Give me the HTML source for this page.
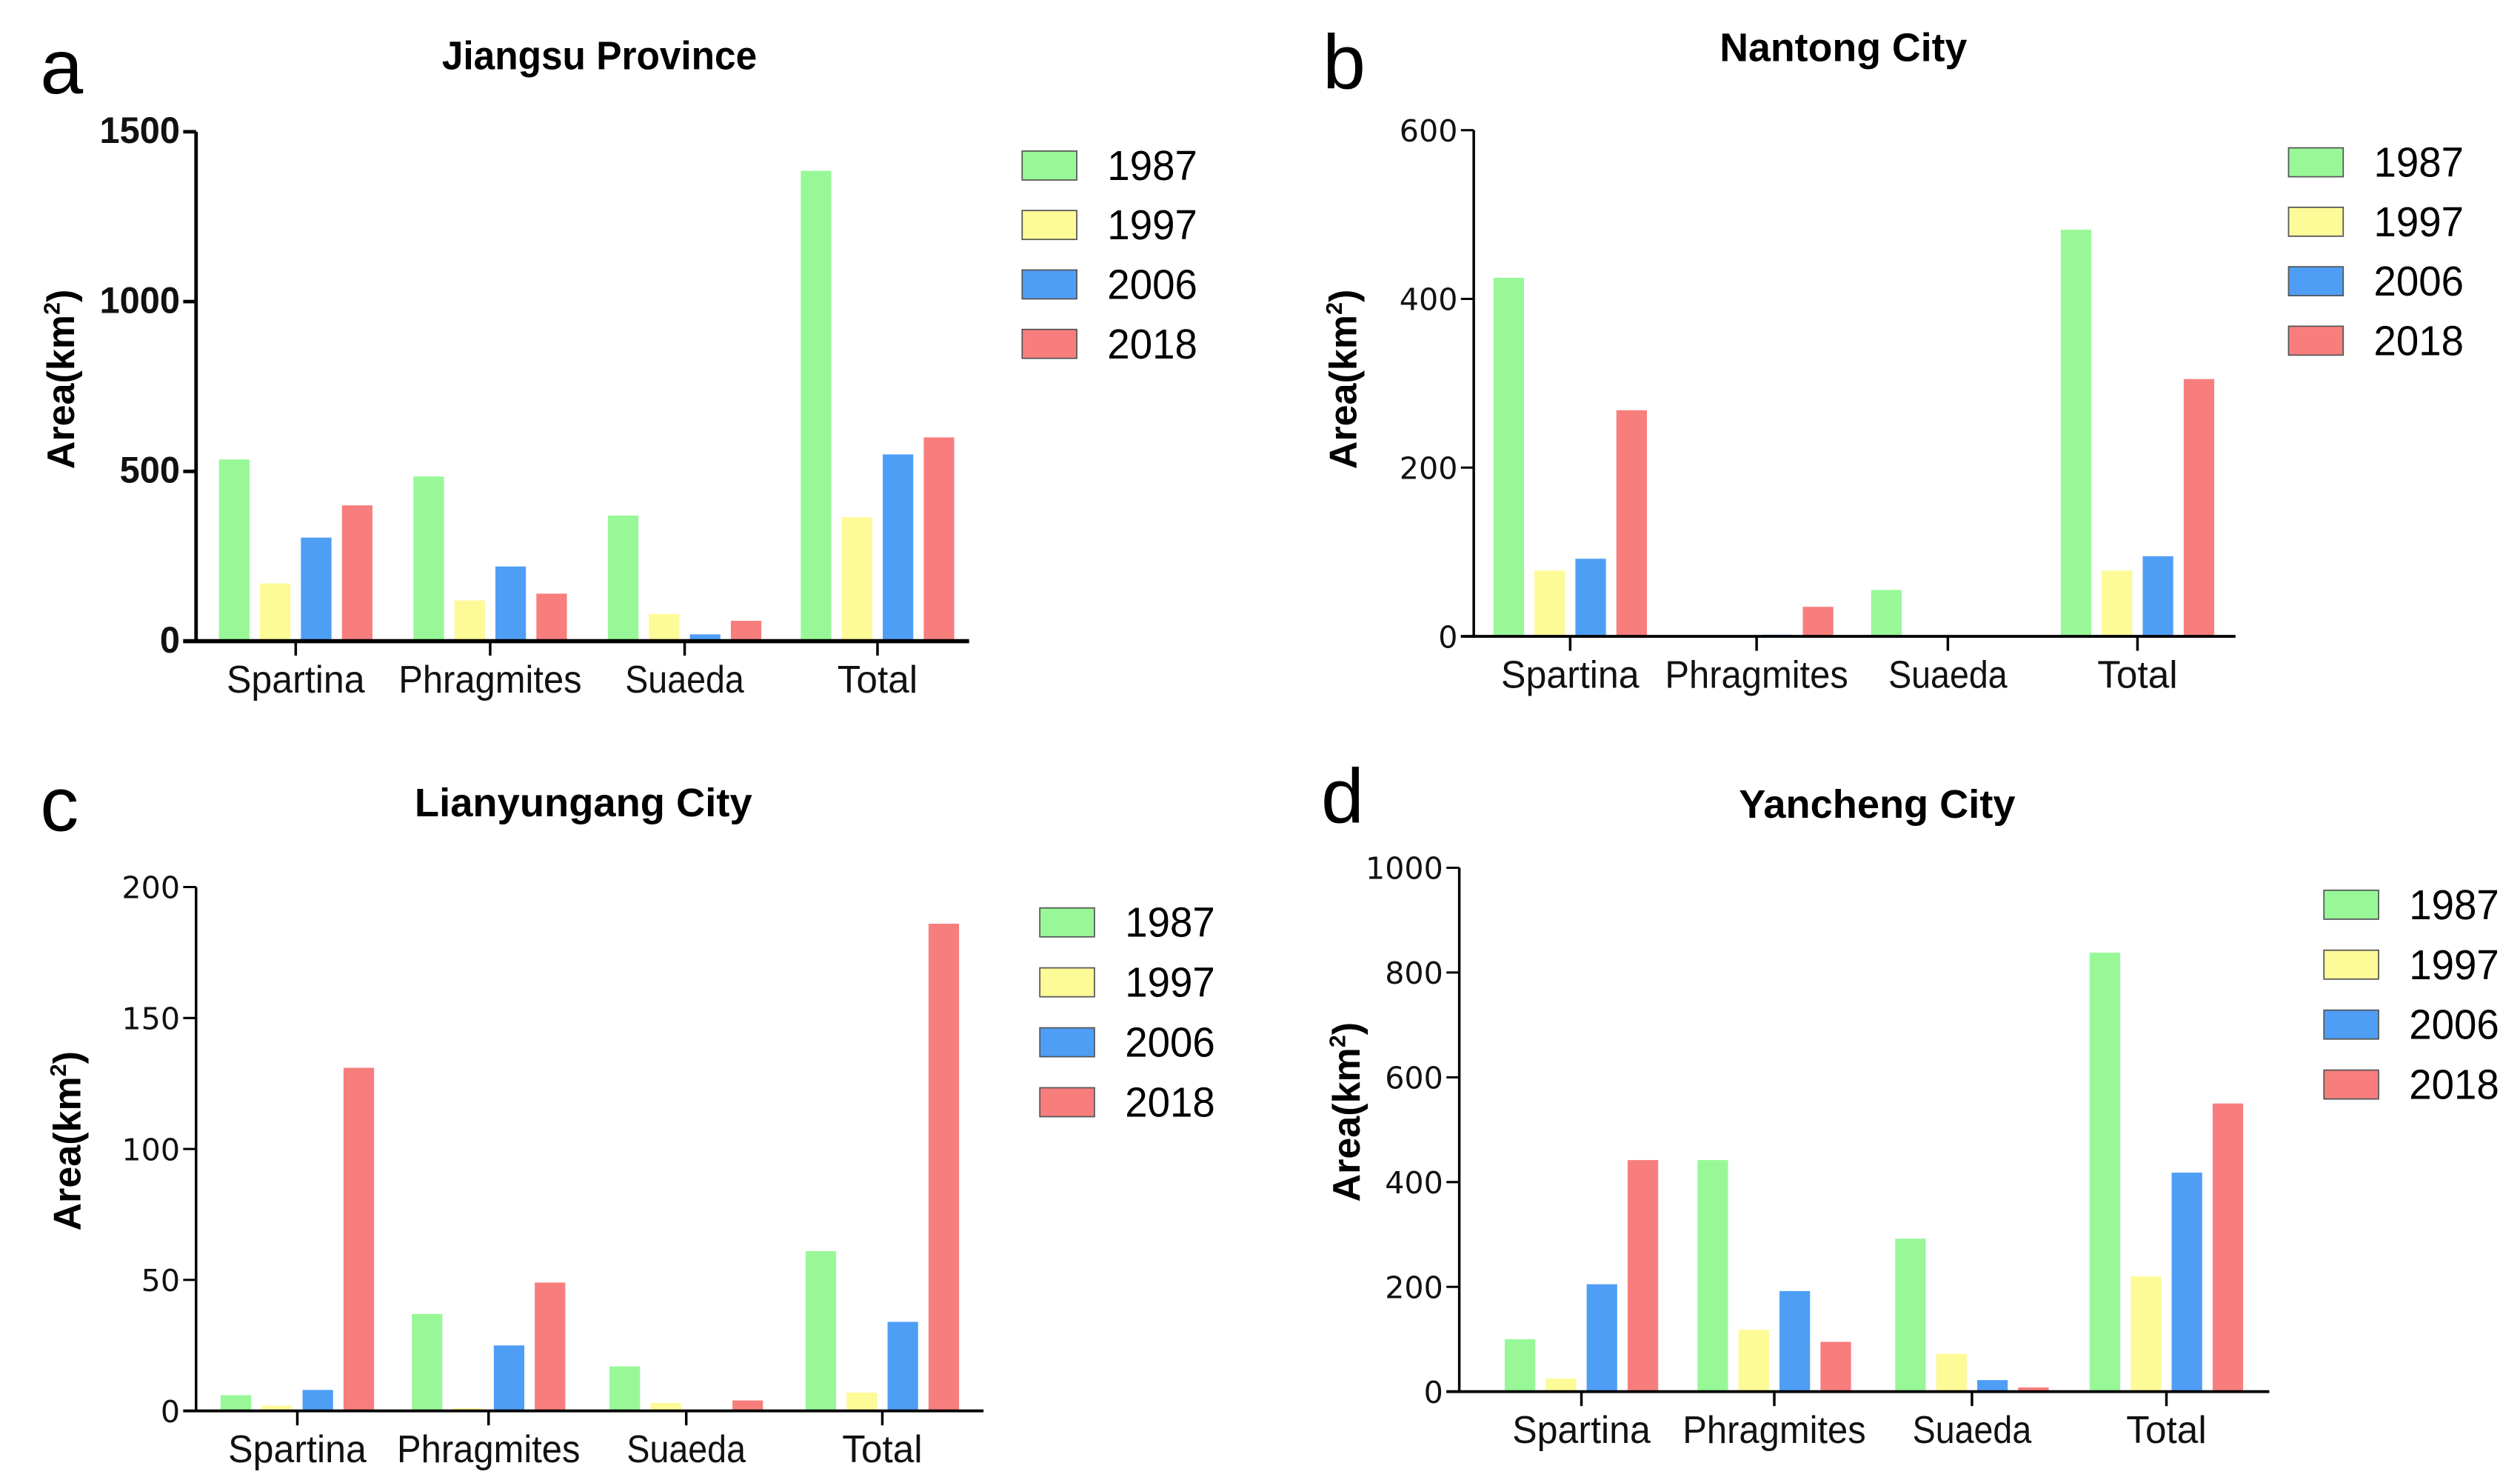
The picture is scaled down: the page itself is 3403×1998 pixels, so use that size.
<!DOCTYPE html>
<html><head><meta charset="utf-8"><style>
html,body{margin:0;padding:0;background:#fff;}
svg{display:block;}
</style></head><body>
<svg id="fig" xmlns="http://www.w3.org/2000/svg" width="3403" height="1998" viewBox="0 0 1568 921" preserveAspectRatio="none"></svg>
<script>
const categories = ["Spartina","Phragmites","Suaeda","Total"];
const years = ["1987","1997","2006","2018"];
const colors = ["#98f898","#fdfa98","#4f9ef6","#f87e7e"];
const aValues1987 = [535,485,370,1385];
const aValues1997 = [170,120,80,365];
const aValues2006 = [305,220,20,550];
const aValues2018 = [400,140,60,600];
const aTicks = [0,500,1000,1500];
const bValues1987 = [425,0,55,482];
const bValues1997 = [78,0,0,78];
const bValues2006 = [92,2,0,95];
const bValues2018 = [268,35,0,305];
const bTicks = [0,200,400,600];
const cValues1987 = [6,37,17,61];
const cValues1997 = [2,1,3,7];
const cValues2006 = [8,25,0,34];
const cValues2018 = [131,49,4,186];
const cTicks = [0,50,100,150,200];
const dValues1987 = [100,442,292,838];
const dValues1997 = [25,118,72,220];
const dValues2006 = [205,192,22,418];
const dValues2018 = [442,95,8,550];
const dTicks = [0,200,400,600,800,1000];

const catWidths=[86,114,74,50];
const NS="http://www.w3.org/2000/svg";
const svg=document.getElementById('fig');
function el(tag,attrs,parent){const e=document.createElementNS(NS,tag);for(const k in attrs)e.setAttribute(k,attrs[k]);(parent||svg).appendChild(e);return e;}

const panels=[
 {id:'a',title:'Jiangsu Province',tw:196,series:[aValues1987,aValues1997,aValues2006,aValues2018],ticks:aTicks,
  x0:122,x1:603,y0:399,y1:82,cx:[184,305,426,546],bold:true,letter:[25,58],titleXY:[373,43],ylab:[46,236],leg:[636,103,37]},
 {id:'b',title:'Nantong City',tw:154,series:[bValues1987,bValues1997,bValues2006,bValues2018],ticks:bTicks,
  x0:917,x1:1391,y0:396,y1:81,cx:[977,1093,1212,1330],bold:false,letter:[823,55],titleXY:[1147,38],ylab:[844,236],leg:[1424,101,37]},
 {id:'c',title:'Lianyungang City',tw:210,series:[cValues1987,cValues1997,cValues2006,cValues2018],ticks:cTicks,
  x0:122,x1:612,y0:878,y1:552,cx:[185,304,427,549],bold:false,letter:[25,517],titleXY:[363,508],ylab:[50,710],leg:[647,574,37.3]},
 {id:'d',title:'Yancheng City',tw:172,series:[dValues1987,dValues1997,dValues2006,dValues2018],ticks:dTicks,
  x0:908,x1:1412,y0:866,y1:540,cx:[984,1104,1227,1348],bold:false,letter:[822,512],titleXY:[1168,509],ylab:[846,692],leg:[1446,563,37.3]}
];

panels.forEach(p=>{
  const g=el('g',{});
  
  
  const max=p.ticks[p.ticks.length-1];
  const yS=v=>p.y0-(v/max)*(p.y0-p.y1);
  const L=el('text',{x:p.letter[0],y:p.letter[1],'font-family':'Liberation Sans, sans-serif','font-size':48,fill:'#000'},g);
  L.textContent=p.id;
  
  
  const T=el('text',{x:p.titleXY[0],y:p.titleXY[1],'text-anchor':'middle','font-family':'Liberation Sans, sans-serif','font-weight':'bold','font-size':25,textLength:p.tw,lengthAdjust:'spacingAndGlyphs',fill:'#000'},g);
  T.textContent=p.title;
  
  
  const pitch=25.5,bw=19;
  p.series.forEach((vals,si)=>{
    vals.forEach((v,ci)=>{
      const cx=p.cx[ci]+(si-1.5)*pitch;
      const y=yS(v);
      const r=el('rect',{x:cx-bw/2,y:y,width:bw,height:Math.max(0,p.y0-y),fill:colors[si]},g);
      
      
    });
  });
  const ya=el('line',{x1:p.x0,y1:p.y1,x2:p.x0,y2:p.y0,stroke:'#000','stroke-width':p.bold?2.2:1.6},g);
  
  
  const xa=el('line',{x1:p.x0-8,y1:p.y0,x2:p.x1,y2:p.y0,stroke:'#000','stroke-width':p.bold?2.6:1.8},g);
  
  
  p.ticks.forEach(t=>{
    const y=yS(t);
    el('line',{x1:p.x0-8,y1:y,x2:p.x0,y2:y,stroke:'#000','stroke-width':p.bold?2.2:1.4},g);
    const attrs={x:p.x0-10,y:y+7,'text-anchor':'end','font-family':p.bold?'Liberation Sans, sans-serif':'DejaVu Sans, sans-serif','font-weight':p.bold?'bold':'normal','font-size':p.bold?23:19,fill:'#111'};
    if(p.bold){attrs.textLength=String(t).length*12.5;attrs.lengthAdjust='spacingAndGlyphs';}
    const tl=el('text',attrs,g);
    tl.textContent=t;
    
    
  });
  categories.forEach((c,ci)=>{
    el('line',{x1:p.cx[ci],y1:p.y0,x2:p.cx[ci],y2:p.y0+9,stroke:'#000','stroke-width':1.6},g);
    const ct=el('text',{x:p.cx[ci],y:p.y0+32,'text-anchor':'middle','font-family':'Liberation Sans, sans-serif','font-size':24,textLength:catWidths[ci],lengthAdjust:'spacingAndGlyphs',fill:'#111'},g);
    ct.textContent=c;
    
    
  });
  const yl=el('text',{x:0,y:0,transform:'translate('+p.ylab[0]+','+p.ylab[1]+') rotate(-90)','text-anchor':'middle','font-family':'Liberation Sans, sans-serif','font-weight':'bold','font-size':24,fill:'#000'},g);
  yl.innerHTML='Area(km<tspan dy="-9" font-size="14">2</tspan><tspan dy="9">)</tspan>';
  
  
  years.forEach((yr,si)=>{
    const yy=p.leg[1]+si*p.leg[2];
    const lg=el('g',{},g);
    
    
    el('rect',{x:p.leg[0],y:yy-9,width:34,height:18,fill:colors[si],stroke:'#555','stroke-width':0.8},lg);
    const lt=el('text',{x:p.leg[0]+53,y:yy+9,'font-family':'Liberation Sans, sans-serif','font-size':26,textLength:56,lengthAdjust:'spacingAndGlyphs',fill:'#000'},lg);
    lt.textContent=yr;
  });
});
</script>
</body></html>
